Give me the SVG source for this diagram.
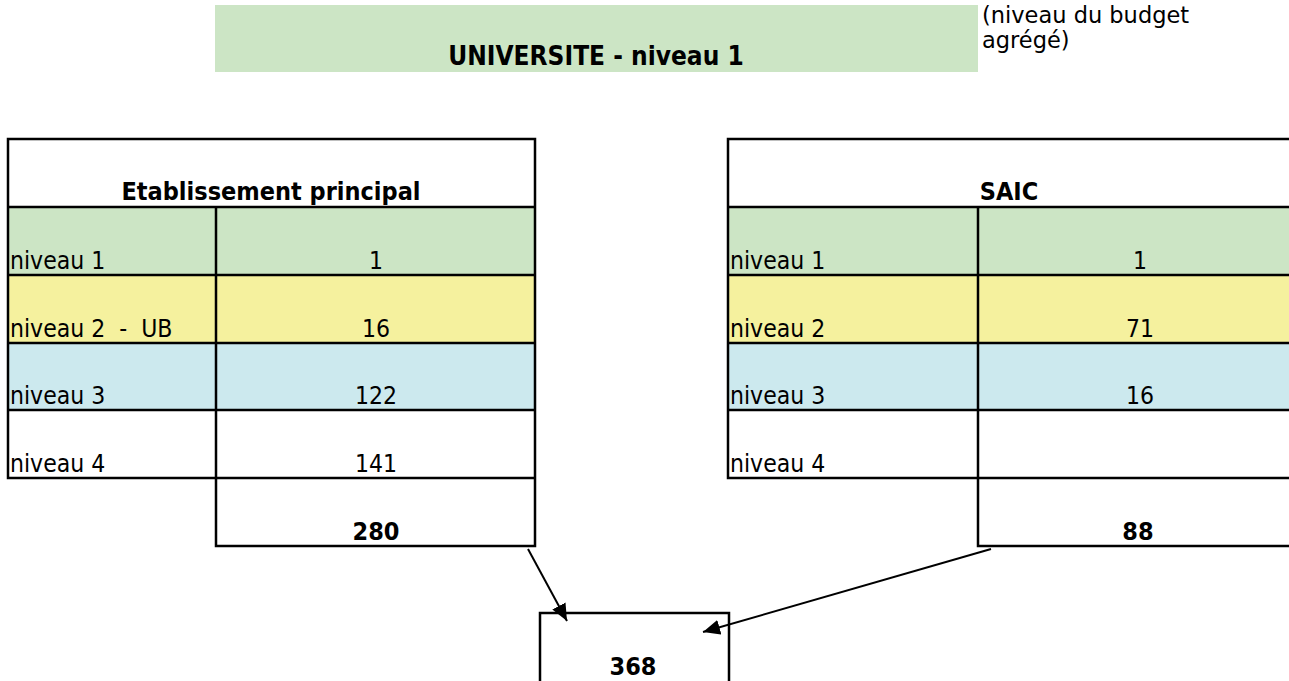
<svg xmlns="http://www.w3.org/2000/svg" width="1289" height="681" viewBox="0 0 1289 681">
<defs>
<style>
text{font-family:"DejaVu Sans Condensed","DejaVu Sans",Verdana,sans-serif;fill:#000;white-space:pre;}
.r{font-size:24.5px;}
.b{font-size:25px;font-weight:bold;}
.n{font-family:"DejaVu Sans",Verdana,sans-serif;font-size:22.5px;}
.m{text-anchor:middle;}
.g{fill:#cce5c5;}
.y{fill:#f5f19e;}
.c{fill:#cce9ee;}
.ln{stroke:#000;stroke-width:2.5;fill:none;}
.cn{stroke:#000;stroke-width:2;fill:none;}
</style>
<marker id="ah" viewBox="0 0 17 15" refX="17" refY="7.5" markerWidth="17" markerHeight="15" markerUnits="userSpaceOnUse" orient="auto">
<path d="M0,0 L17,7.5 L0,15 z" fill="#000"/>
</marker>
</defs>
<rect width="1289" height="681" fill="#fff"/>

<g id="universite">
<rect x="215" y="5" width="763" height="67" class="g"/>
<text x="596" y="65" class="b m" style="font-size:26px">UNIVERSITE - niveau 1</text>
</g>
<g id="note">
<text x="982" y="23" class="n">(niveau du budget</text>
<text x="982" y="48" class="n">agrégé)</text>
</g>

<g id="etablissement">
<rect x="8" y="207" width="527" height="68" class="g"/>
<rect x="8" y="275" width="527" height="68" class="y"/>
<rect x="8" y="343" width="527" height="67" class="c"/>
<path class="ln" d="M8,139 H535 V546 H216 V478 H8 Z M8,207 H535 M8,275 H535 M8,343 H535 M8,410 H535 M8,478 H535 M216,207 V478"/>
<text x="271" y="200" class="b m">Etablissement principal</text>
<text x="10" y="269" class="r">niveau 1</text>
<text x="10" y="337" class="r" xml:space="preserve">niveau 2  -  UB</text>
<text x="10" y="404" class="r">niveau 3</text>
<text x="10" y="472" class="r">niveau 4</text>
<text x="376" y="269" class="r m">1</text>
<text x="376" y="337" class="r m">16</text>
<text x="376" y="404" class="r m">122</text>
<text x="376" y="472" class="r m">141</text>
<text x="376" y="540" class="b m">280</text>
</g>

<g id="saic">
<rect x="728" y="207" width="570" height="68" class="g"/>
<rect x="728" y="275" width="570" height="68" class="y"/>
<rect x="728" y="343" width="570" height="67" class="c"/>
<path class="ln" d="M1298,139 H728 V478 H978 V546 H1298 M728,207 H1298 M728,275 H1298 M728,343 H1298 M728,410 H1298 M978,478 H1298 M978,207 V478"/>
<text x="1009" y="200" class="b m">SAIC</text>
<text x="730" y="269" class="r">niveau 1</text>
<text x="730" y="337" class="r">niveau 2</text>
<text x="730" y="404" class="r">niveau 3</text>
<text x="730" y="472" class="r">niveau 4</text>
<text x="1140" y="269" class="r m">1</text>
<text x="1140" y="337" class="r m">71</text>
<text x="1140" y="404" class="r m">16</text>
<text x="1138" y="540" class="b m">88</text>
</g>

<g id="total">
<path class="ln" d="M540,690 V613 H729 V690"/>
<text x="633" y="675" class="b m">368</text>
</g>

<g id="connectors">
<line x1="528" y1="549" x2="567" y2="621" class="cn" marker-end="url(#ah)"/>
<line x1="991" y1="549" x2="703" y2="632" class="cn" marker-end="url(#ah)"/>
</g>
</svg>
